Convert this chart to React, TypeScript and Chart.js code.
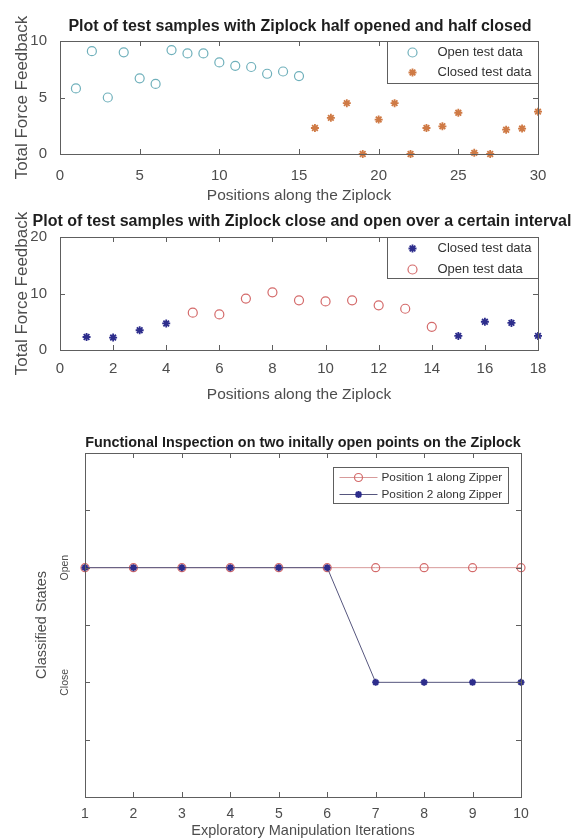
import React, { useEffect, useRef } from "react";
import { Chart, registerables } from "chart.js";

Chart.register(...registerables);

const FONT = "'Liberation Sans', Arial, Helvetica, sans-serif";
const AXIS_COLOR = "#5e5e5e";
const TICK_TEXT = "#4d4d4d";
const TITLE_TEXT = "#1e1e1e";

// ---------- Figure 1 data ----------
const fig1Title = "Plot of test samples with Ziplock half opened and half closed";
const fig1XLabel = "Positions along the Ziplock";
const fig1YLabel = "Total Force Feedback";
const fig1OpenPositions = [1, 2, 3, 4, 5, 6, 7, 8, 9, 10, 11, 12, 13, 14, 15];
const fig1OpenValues = [5.8, 9.1, 5.0, 9.0, 6.7, 6.2, 9.2, 8.9, 8.9, 8.1, 7.8, 7.7, 7.1, 7.3, 6.9];
const fig1ClosedPositions = [16, 17, 18, 19, 20, 21, 22, 23, 24, 25, 26, 27, 28, 29, 30];
const fig1ClosedValues = [2.3, 3.2, 4.5, 0, 3.05, 4.5, 0, 2.3, 2.45, 3.65, 0.1, 0, 2.15, 2.25, 3.75];
const fig1XTicks = [0, 5, 10, 15, 20, 25, 30];
const fig1YTicks = [0, 5, 10];
const fig1Legend = ["Open test data", "Closed test data"];

// ---------- Figure 2 data ----------
const fig2Title = "Plot of test samples with Ziplock close and open over a certain interval";
const fig2XLabel = "Positions along the Ziplock";
const fig2YLabel = "Total Force Feedback";
const fig2ClosedPositions = [1, 2, 3, 4, 15, 16, 17, 18];
const fig2ClosedValues = [2.3, 2.2, 3.5, 4.7, 2.5, 5.0, 4.8, 2.5];
const fig2OpenPositions = [5, 6, 7, 8, 9, 10, 11, 12, 13, 14];
const fig2OpenValues = [6.6, 6.3, 9.1, 10.2, 8.8, 8.6, 8.8, 7.9, 7.3, 4.1];
const fig2XTicks = [0, 2, 4, 6, 8, 10, 12, 14, 16, 18];
const fig2YTicks = [0, 10, 20];
const fig2Legend = ["Closed test data", "Open test data"];

// ---------- Figure 3 data ----------
const fig3Title = "Functional Inspection on two initally open points on the Ziplock";
const fig3XLabel = "Exploratory Manipulation Iterations";
const fig3YLabel = "Classified States";
const fig3Iterations = [1, 2, 3, 4, 5, 6, 7, 8, 9, 10];
const fig3Position1 = ["Open", "Open", "Open", "Open", "Open", "Open", "Open", "Open", "Open", "Open"];
const fig3Position2 = ["Open", "Open", "Open", "Open", "Open", "Open", "Close", "Close", "Close", "Close"];
const stateLevels: Record<string, number> = { Close: 1, Open: 2 };
const fig3XTicks = [1, 2, 3, 4, 5, 6, 7, 8, 9, 10];
const fig3YTicks = [0, 0.5, 1, 1.5, 2, 2.5, 3];
const fig3Legend = ["Position 1 along Zipper", "Position 2 along Zipper"];

// ---------- colours ----------
const TEAL = "#6fb0bb";
const ORANGE = "#cf7a45";
const NAVY = "#2d2d8c";
const RED = "#d46a6a";
const RED_LINE = "#d79a9a";
const BLUE_LINE = "#56567e";

type Entry = {
  label: string;
  color: string;
  style: "circle" | "star";
  radius: number;
  width: number;
  lineColor?: string;
};

type LegendSpec = {
  entries: Entry[];
  width: number;
  height: number;
  offsetRight: number;
  offsetTop: number;
  rowStart: number;
  rowGap: number;
  markerX: number;
  textX: number;
  lineFrom?: number;
  lineTo?: number;
  fontSize: number;
};

type TitleSpec = { text: string; y: number; size: number; dx: number };

function drawMarker(ctx: CanvasRenderingContext2D, e: Entry, x: number, y: number) {
  ctx.save();
  ctx.strokeStyle = e.color;
  ctx.lineWidth = e.width;
  ctx.beginPath();
  const r = e.radius;
  if (e.style === "circle") {
    ctx.arc(x, y, r, 0, Math.PI * 2);
  } else {
    ctx.moveTo(x - r, y);
    ctx.lineTo(x + r, y);
    ctx.moveTo(x, y - r);
    ctx.lineTo(x, y + r);
    const d = r * Math.SQRT1_2;
    ctx.moveTo(x - d, y - d);
    ctx.lineTo(x + d, y + d);
    ctx.moveTo(x - d, y + d);
    ctx.lineTo(x + d, y - d);
  }
  ctx.stroke();
  ctx.restore();
}

function matlabPlugin(
  title: TitleSpec,
  legend: LegendSpec,
  tickLen: number,
  yLabels?: { values: number[]; texts: string[]; x: number; fontSize: number }
) {
  return {
    id: "matlabAxes",
    afterDraw(chart: any) {
      const { ctx, chartArea: a, scales } = chart;
      const xs = scales.x;
      const ys = scales.y;
      ctx.save();

      // title
      ctx.fillStyle = TITLE_TEXT;
      ctx.font = `bold ${title.size}px ${FONT}`;
      ctx.textAlign = "center";
      ctx.textBaseline = "middle";
      ctx.fillText(title.text, (a.left + a.right) / 2 + title.dx, title.y);

      // box and inward ticks
      ctx.strokeStyle = AXIS_COLOR;
      ctx.lineWidth = 1;
      ctx.beginPath();
      for (const t of xs.ticks) {
        const px = Math.round(xs.getPixelForValue(t.value)) + 0.5;
        ctx.moveTo(px, a.bottom);
        ctx.lineTo(px, a.bottom - tickLen);
        ctx.moveTo(px, a.top);
        ctx.lineTo(px, a.top + tickLen);
      }
      for (const t of ys.ticks) {
        const py = Math.round(ys.getPixelForValue(t.value)) + 0.5;
        ctx.moveTo(a.left, py);
        ctx.lineTo(a.left + tickLen, py);
        ctx.moveTo(a.right, py);
        ctx.lineTo(a.right - tickLen, py);
      }
      ctx.stroke();
      ctx.strokeRect(Math.round(a.left) + 0.5, Math.round(a.top) + 0.5, Math.round(a.right - a.left), Math.round(a.bottom - a.top));

      if (yLabels) {
        ctx.fillStyle = TICK_TEXT;
        ctx.font = `${yLabels.fontSize}px ${FONT}`;
        ctx.textAlign = "center";
        ctx.textBaseline = "middle";
        yLabels.values.forEach((v, i) => {
          const py = ys.getPixelForValue(v);
          ctx.save();
          ctx.translate(yLabels.x, py);
          ctx.rotate(-Math.PI / 2);
          ctx.fillText(yLabels.texts[i], 0, 0);
          ctx.restore();
        });
      }

      // legend box
      const L = legend;
      const bx = Math.round(a.right - L.offsetRight - L.width) + 0.5;
      const by = Math.round(a.top + L.offsetTop) + 0.5;
      ctx.fillStyle = "#ffffff";
      ctx.fillRect(bx, by, L.width, L.height);
      ctx.strokeStyle = AXIS_COLOR;
      ctx.lineWidth = 1;
      ctx.strokeRect(bx, by, L.width, L.height);
      ctx.font = `${L.fontSize}px ${FONT}`;
      ctx.textAlign = "left";
      ctx.textBaseline = "middle";
      L.entries.forEach((e, i) => {
        const ry = by + L.rowStart + i * L.rowGap;
        if (e.lineColor && L.lineFrom !== undefined && L.lineTo !== undefined) {
          ctx.strokeStyle = e.lineColor;
          ctx.lineWidth = 1;
          ctx.beginPath();
          ctx.moveTo(bx + L.lineFrom, ry);
          ctx.lineTo(bx + L.lineTo, ry);
          ctx.stroke();
        }
        drawMarker(ctx, e, bx + L.markerX, ry);
        ctx.fillStyle = "#333333";
        ctx.fillText(e.label, bx + L.textX, ry);
      });
      ctx.restore();
    },
  };
}

function pts(xs: number[], ys: number[]) {
  return xs.map((x, i) => ({ x, y: ys[i] }));
}

function axisX(min: number, max: number, ticks: number[], height: number, label: string, tickSize: number, labelSize: number, tickPad: number, titleBottom: number) {
  return {
    type: "linear",
    min,
    max,
    afterBuildTicks: (s: any) => {
      s.ticks = ticks.map((value) => ({ value }));
    },
    afterFit: (s: any) => {
      s.height = height;
    },
    grid: { display: false },
    border: { display: false },
    ticks: { color: TICK_TEXT, font: { family: FONT, size: tickSize }, padding: tickPad, maxRotation: 0, autoSkip: false },
    title: { display: true, text: label, color: TICK_TEXT, font: { family: FONT, size: labelSize }, padding: { top: 0, bottom: titleBottom } },
  };
}

function axisY(min: number, max: number, ticks: number[], width: number, label: string, tickSize: number, labelSize: number, tickPad: number, titleLeft: number, showTicks: boolean) {
  return {
    type: "linear",
    min,
    max,
    afterBuildTicks: (s: any) => {
      s.ticks = ticks.map((value) => ({ value }));
    },
    afterFit: (s: any) => {
      s.width = width;
    },
    grid: { display: false },
    border: { display: false },
    ticks: { display: showTicks, color: TICK_TEXT, font: { family: FONT, size: tickSize }, padding: tickPad },
    title: { display: true, text: label, color: TICK_TEXT, font: { family: FONT, size: labelSize }, padding: { top: titleLeft, bottom: 0 } },
  };
}

const baseOptions = {
  responsive: false,
  animation: false,
  events: [],
  devicePixelRatio: 1,
};

function config1(): any {
  const entries: Entry[] = [
    { label: fig1Legend[0], color: TEAL, style: "circle", radius: 4.5, width: 1.2 },
    { label: fig1Legend[1], color: ORANGE, style: "star", radius: 4, width: 1.8 },
  ];
  return {
    type: "scatter",
    data: {
      datasets: [
        { label: fig1Legend[0], data: pts(fig1OpenPositions, fig1OpenValues), pointStyle: "circle", pointRadius: 4.5, borderColor: TEAL, backgroundColor: "rgba(0,0,0,0)", borderWidth: 1.2, clip: false },
        { label: fig1Legend[1], data: pts(fig1ClosedPositions, fig1ClosedValues), pointStyle: "star", pointRadius: 4, borderColor: ORANGE, backgroundColor: ORANGE, borderWidth: 1.8, clip: false },
      ],
    },
    options: {
      ...baseOptions,
      layout: { padding: { left: 0, right: 35, top: 41, bottom: 0 } },
      plugins: { legend: { display: false }, tooltip: { enabled: false }, title: { display: false } },
      scales: {
        x: axisX(0, 30, fig1XTicks, 51, fig1XLabel, 15, 15.5, 5, 0),
        y: axisY(0, 10, fig1YTicks, 60, fig1YLabel, 15, 17, 5, 12, true),
      },
    },
    plugins: [
      matlabPlugin(
        { text: fig1Title, y: 27, size: 16, dx: 1 },
        { entries, width: 151, height: 42, offsetRight: 0, offsetTop: 0, rowStart: 11, rowGap: 20, markerX: 25, textX: 50, fontSize: 13 },
        5
      ),
    ],
  };
}

function config2(): any {
  const entries: Entry[] = [
    { label: fig2Legend[0], color: NAVY, style: "star", radius: 4, width: 1.8 },
    { label: fig2Legend[1], color: RED, style: "circle", radius: 4.5, width: 1.2 },
  ];
  return {
    type: "scatter",
    data: {
      datasets: [
        { label: fig2Legend[0], data: pts(fig2ClosedPositions, fig2ClosedValues), pointStyle: "star", pointRadius: 4, borderColor: NAVY, backgroundColor: NAVY, borderWidth: 1.8, clip: false },
        { label: fig2Legend[1], data: pts(fig2OpenPositions, fig2OpenValues), pointStyle: "circle", pointRadius: 4.5, borderColor: RED, backgroundColor: "rgba(0,0,0,0)", borderWidth: 1.2, clip: false },
      ],
    },
    options: {
      ...baseOptions,
      layout: { padding: { left: 0, right: 35, top: 32, bottom: 0 } },
      plugins: { legend: { display: false }, tooltip: { enabled: false }, title: { display: false } },
      scales: {
        x: axisX(0, 18, fig2XTicks, 62, fig2XLabel, 15, 15.5, 2, 8),
        y: axisY(0, 20, fig2YTicks, 60, fig2YLabel, 15, 17, 5, 12, true),
      },
    },
    plugins: [
      matlabPlugin(
        { text: fig2Title, y: 17, size: 16, dx: 3 },
        { entries, width: 151, height: 41, offsetRight: 0, offsetTop: 0, rowStart: 11, rowGap: 21, markerX: 25, textX: 50, fontSize: 13 },
        5
      ),
    ],
  };
}

function config3(): any {
  const entries: Entry[] = [
    { label: fig3Legend[0], color: RED, style: "circle", radius: 4, width: 1.2, lineColor: RED_LINE },
    { label: fig3Legend[1], color: NAVY, style: "star", radius: 3.5, width: 2, lineColor: BLUE_LINE },
  ];
  return {
    type: "scatter",
    data: {
      datasets: [
        {
          label: fig3Legend[0],
          data: pts(fig3Iterations, fig3Position1.map((s) => stateLevels[s])),
          showLine: true,
          borderColor: RED_LINE,
          borderWidth: 1,
          pointStyle: "circle",
          pointRadius: 4,
          pointBorderColor: RED,
          pointBackgroundColor: "rgba(0,0,0,0)",
          pointBorderWidth: 1.2,
          order: 2,
          clip: false,
        },
        {
          label: fig3Legend[1],
          data: pts(fig3Iterations, fig3Position2.map((s) => stateLevels[s])),
          showLine: true,
          borderColor: BLUE_LINE,
          borderWidth: 1,
          pointStyle: "star",
          pointRadius: 3.5,
          pointBorderColor: NAVY,
          pointBackgroundColor: NAVY,
          pointBorderWidth: 2,
          order: 1,
          clip: false,
        },
      ],
    },
    options: {
      ...baseOptions,
      layout: { padding: { left: 0, right: 52, top: 41, bottom: 0 } },
      plugins: { legend: { display: false }, tooltip: { enabled: false }, title: { display: false } },
      scales: {
        x: axisX(1, 10, fig3XTicks, 43, fig3XLabel, 14, 14.5, 1, 0),
        y: axisY(0, 3, fig3YTicks, 85, fig3YLabel, 11, 14.5, 8, 33, false),
      },
    },
    plugins: [
      matlabPlugin(
        { text: fig3Title, y: 31, size: 14.4, dx: 0 },
        { entries, width: 175, height: 36, offsetRight: 13, offsetTop: 14, rowStart: 10, rowGap: 17, markerX: 25, textX: 48, lineFrom: 6, lineTo: 44, fontSize: 11.8 },
        5,
        { values: [stateLevels.Open, stateLevels.Close], texts: ["Open", "Close"], x: 65, fontSize: 10.5 }
      ),
    ],
  };
}

function PlotCanvas({ top, height, make }: { top: number; height: number; make: () => any }) {
  const ref = useRef<HTMLCanvasElement | null>(null);
  useEffect(() => {
    if (!ref.current) return;
    const chart = new Chart(ref.current, make());
    return () => chart.destroy();
  }, []);
  return (
    <canvas
      ref={ref}
      width={573}
      height={height}
      style={{ position: "absolute", left: 0, top, width: 573, height, display: "block" }}
    />
  );
}

export default function App() {
  return (
    <div style={{ position: "absolute", left: 0, top: 0, width: 573, height: 840, background: "#ffffff", overflow: "hidden" }}>
      <PlotCanvas top={0} height={205} make={config1} />
      <PlotCanvas top={205} height={207} make={config2} />
      <PlotCanvas top={412} height={428} make={config3} />
    </div>
  );
}
